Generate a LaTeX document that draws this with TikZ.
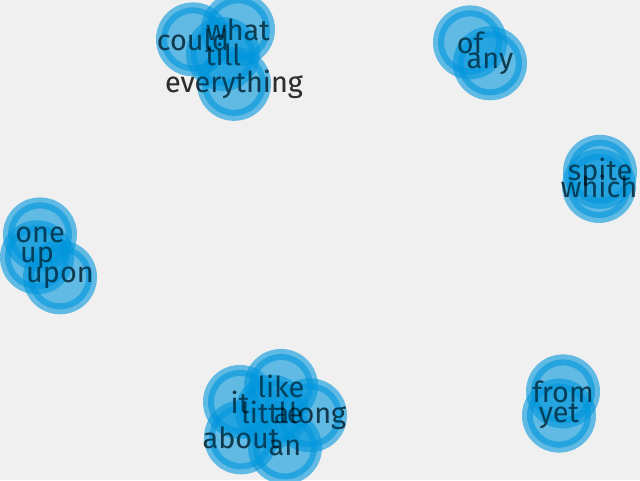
\documentclass[tikz,border=0pt]{standalone}
\usepackage{fontspec}
\setmainfont{Fira Sans}
\usepackage{tikz}
\usetikzlibrary{positioning}
\definecolor{bubble}{RGB}{0,150,220}
\definecolor{paper}{RGB}{240,240,240}
\tikzset{
  word/.style={anchor=base,inner sep=0pt,text=black,text opacity=0.56,font=\fontsize{28.8}{29}\selectfont},
  disc/.style={fill=bubble,fill opacity=0.6},
  ring/.style={draw=bubble,draw opacity=0.6,line width=6pt}
}

\begin{document}
\begin{tikzpicture}[x=1pt,y=-1pt]
      \fill [paper] (0,0) rectangle (640,480);
      \useasboundingbox (0,0) rectangle (640,480);
      \begin{scope}[opacity=0]
        \foreach \w/\x/\y in {could/193/50,what/238/40,till/223/65,everything/234/92,
            of/470/53,any/490/68,spite/600/180,which/599/197,one/40/242,up/37/262,
            upon/60/282,from/563/402,yet/559/422,like/281/397,it/240/413,
            little/272/423,along/310/423,about/241/448,an/285/455}
          \node [word] (\w) at (\x,\y) {\w};
      \end{scope}
      \foreach \w in {could,what,till,everything,of,any,spite,which,one,up,upon,
          from,yet,like,it,little,along,about,an} {
        \fill [disc] (\w.center) circle [radius=37pt];
        \draw [ring] (\w.center) circle [radius=29pt];
      }
      \foreach \w in {could,what,till,everything,of,any,spite,which,one,up,upon,
          from,yet,like,it,little,along,about,an}
        \node [word] at (\w.base) {\w};
\end{tikzpicture}
\end{document}
